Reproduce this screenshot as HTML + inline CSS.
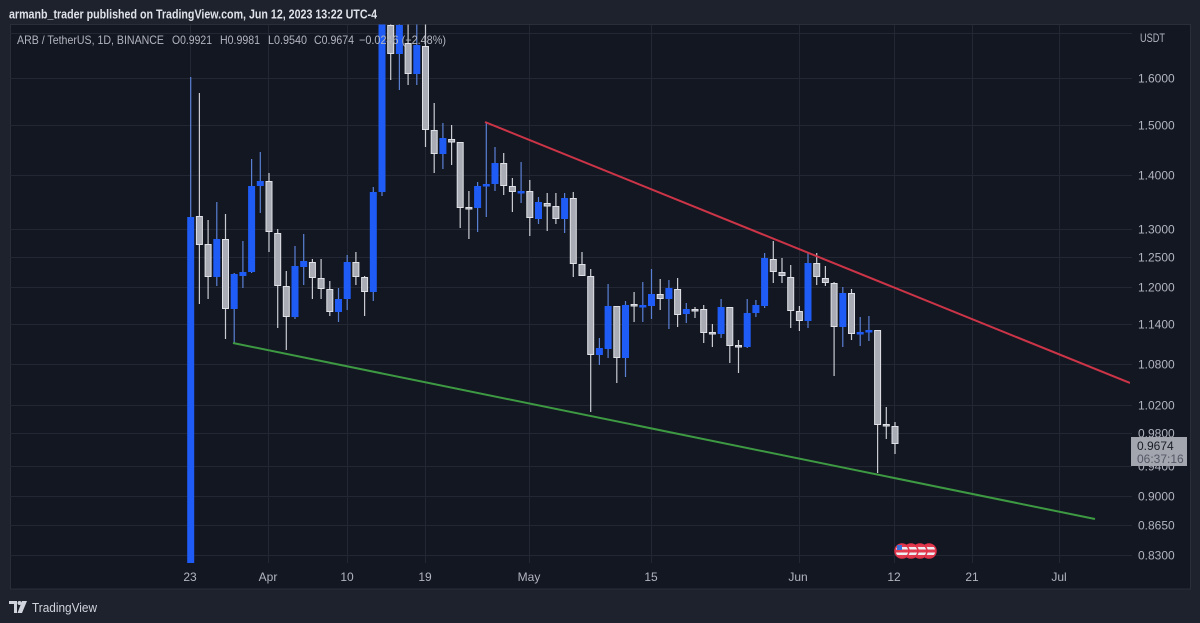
<!DOCTYPE html>
<html><head><meta charset="utf-8"><style>
html,body{margin:0;padding:0;background:#1e222d;}
svg{display:block;}
text{font-family:"Liberation Sans",sans-serif;}
</style></head><body>
<svg width="1200" height="623" viewBox="0 0 1200 623" xmlns="http://www.w3.org/2000/svg">
<defs>
<clipPath id="plot"><rect x="10" y="24.5" width="1120" height="538.5"/></clipPath>
<linearGradient id="stripes" x1="0" y1="0" x2="0" y2="1">
<stop offset="0" stop-color="#e23a4e"/><stop offset="0.2" stop-color="#e23a4e"/>
<stop offset="0.2" stop-color="#eceef2"/><stop offset="0.4" stop-color="#eceef2"/>
<stop offset="0.4" stop-color="#e23a4e"/><stop offset="0.6" stop-color="#e23a4e"/>
<stop offset="0.6" stop-color="#eceef2"/><stop offset="0.8" stop-color="#eceef2"/>
<stop offset="0.8" stop-color="#e23a4e"/><stop offset="1" stop-color="#e23a4e"/>
</linearGradient>
</defs>
<rect x="0" y="0" width="1200" height="623" fill="#1e222d"/>
<rect x="10.5" y="24.5" width="1180" height="564.5" fill="#131722" stroke="#2a2e39" stroke-width="1"/>

<!-- grid -->
<g stroke="#232734" stroke-width="1">
<path d="M10 33.5H1132M10 78.5H1132M10 125.5H1132M10 175.5H1132M10 229.5H1132M10 257.5H1132M10 287.5H1132M10 324.5H1132M10 364.5H1132M10 405.5H1132M10 433.5H1132M10 466.5H1132M10 496.5H1132M10 525.5H1132M10 555.5H1132"/>
<path d="M190.5 25V563M268.5 25V563M347.5 25V563M425.5 25V563M529.5 25V563M651.5 25V563M799.5 25V563M894.5 25V563M972.5 25V563M1059.5 25V563"/>
</g>

<g clip-path="url(#plot)">
<!-- blue wicks -->
<path fill="none" stroke="#5a80d4" stroke-width="1.2" d="
M190.7 77V563M216.8 202V286M234.2 273V343M242.9 241V288M251.6 159V273M260.3 152V213
M295 246V319M303.7 234V285M338.5 288V322M347.2 255V310M373.3 187V301M382 10V196
M399.4 20V90M416.8 20V85M442.9 123V169M477.6 182V232M486.3 122V217M495 147V191
M521.1 162V203M538.5 197V224M564.6 193V233M599.4 338V365M608.1 284V358M625.5 301V377
M642.8 282V322M651.5 269V319M668.9 280V329M686.3 303V323M721.1 299V338M747.2 299V348
M755.9 300V317M764.6 253V308M808 252V328M842.8 287V347M860.2 317V346M868.9 316V341"/>
<!-- grey wicks -->
<path fill="none" stroke="#c9cbd1" stroke-width="1.2" d="
M199.4 93V304M208.1 220V299M225.5 214V339M269 173V252M277.7 229V328M286.3 271V350
M312.4 259V299M321.1 259V299M329.8 281V316M355.9 252V285M364.6 276V316M390.7 20V80
M408.1 20V85M425.5 20V147M434.2 103V173M451.6 125V165M460.2 142V228M468.9 191V239
M503.7 153V195M512.4 178V212M529.8 180V236M547.2 193V231M555.9 193V224M573.3 192V277
M582 252V276M590.7 269V412M616.8 306V383M634.1 292V322M660.2 279V310M677.6 278V327
M695 307V318M703.7 305V343M712.4 324V347M729.8 307V363M738.5 340V373M773.3 241V283
M782 258V283M790.7 265V328M799.4 306V331M816.7 253V285M825.4 266V286M834.1 282V376
M851.5 289V340M877.6 330V473M886.3 407V439M895 422V454"/>
<!-- blue bodies -->
<g fill="#1f5cf6">
<rect x="187.2" y="217" width="7" height="346"/>
<rect x="213.3" y="239" width="7" height="38"/>
<rect x="230.7" y="274" width="7" height="35"/>
<rect x="239.4" y="272" width="7" height="4"/>
<rect x="248.1" y="186" width="7" height="86"/>
<rect x="256.8" y="181" width="7" height="5"/>
<rect x="291.5" y="266" width="7" height="51"/>
<rect x="300.2" y="261" width="7" height="6"/>
<rect x="335" y="299" width="7" height="13"/>
<rect x="343.7" y="262" width="7" height="37"/>
<rect x="369.8" y="192" width="7" height="100"/>
<rect x="378.5" y="10" width="7" height="182"/>
<rect x="395.9" y="25" width="7" height="29"/>
<rect x="413.3" y="45" width="7" height="29"/>
<rect x="439.4" y="138" width="7" height="16"/>
<rect x="474.1" y="186" width="7" height="22"/>
<rect x="482.8" y="184" width="7" height="2.5"/>
<rect x="491.5" y="163" width="7" height="21"/>
<rect x="517.6" y="191" width="7" height="2.5"/>
<rect x="535" y="202" width="7" height="17"/>
<rect x="561.1" y="198" width="7" height="21"/>
<rect x="595.9" y="348" width="7" height="7"/>
<rect x="604.6" y="306" width="7" height="43"/>
<rect x="622" y="305" width="7" height="53"/>
<rect x="639.3" y="305" width="7" height="2.5"/>
<rect x="648" y="294" width="7" height="12"/>
<rect x="665.4" y="288" width="7" height="11"/>
<rect x="682.8" y="309" width="7" height="5"/>
<rect x="717.6" y="307" width="7" height="27"/>
<rect x="743.7" y="313" width="7" height="34"/>
<rect x="752.4" y="305" width="7" height="8"/>
<rect x="761.1" y="258" width="7" height="48"/>
<rect x="804.5" y="263" width="7" height="58"/>
<rect x="839.3" y="293" width="7" height="34"/>
<rect x="856.7" y="332" width="7" height="2.5"/>
<rect x="865.4" y="330" width="7" height="2.5"/>
</g>
<!-- grey bodies -->
<g fill="#a9acb4" stroke="#dfe1e6" stroke-width="1">
<rect x="196.4" y="216.5" width="6" height="28"/>
<rect x="205.1" y="244.5" width="6" height="32"/>
<rect x="222.5" y="239.5" width="6" height="69"/>
<rect x="266" y="181.5" width="6" height="50"/>
<rect x="274.7" y="233.5" width="6" height="52"/>
<rect x="283.3" y="286.5" width="6" height="30"/>
<rect x="309.4" y="262.5" width="6" height="15"/>
<rect x="318.1" y="278.5" width="6" height="10"/>
<rect x="326.8" y="289.5" width="6" height="22"/>
<rect x="352.9" y="262.5" width="6" height="14"/>
<rect x="361.6" y="277.5" width="6" height="14"/>
<rect x="387.7" y="25.5" width="6" height="28"/>
<rect x="405.1" y="43.5" width="6" height="30"/>
<rect x="422.5" y="46.5" width="6" height="83"/>
<rect x="431.2" y="130.5" width="6" height="23"/>
<rect x="448.6" y="139.5" width="6" height="2.5"/>
<rect x="457.2" y="142.5" width="6" height="65"/>
<rect x="465.9" y="207.5" width="6" height="1.5"/>
<rect x="500.7" y="163.5" width="6" height="22"/>
<rect x="509.4" y="186.5" width="6" height="5"/>
<rect x="526.8" y="191.5" width="6" height="26"/>
<rect x="544.2" y="203.5" width="6" height="2.5"/>
<rect x="552.9" y="206.5" width="6" height="12"/>
<rect x="570.3" y="198.5" width="6" height="65"/>
<rect x="579" y="264.5" width="6" height="11"/>
<rect x="587.7" y="276.5" width="6" height="78"/>
<rect x="613.8" y="306.5" width="6" height="51"/>
<rect x="631.1" y="304.5" width="6" height="1.5"/>
<rect x="657.2" y="294.5" width="6" height="4"/>
<rect x="674.6" y="289.5" width="6" height="25"/>
<rect x="692" y="309.5" width="6" height="1.5"/>
<rect x="700.7" y="309.5" width="6" height="23"/>
<rect x="709.4" y="332.5" width="6" height="1.5"/>
<rect x="726.8" y="307.5" width="6" height="38"/>
<rect x="735.5" y="345.5" width="6" height="1.5"/>
<rect x="770.3" y="259.5" width="6" height="12"/>
<rect x="779" y="272.5" width="6" height="3"/>
<rect x="787.7" y="277.5" width="6" height="33"/>
<rect x="796.4" y="311.5" width="6" height="9"/>
<rect x="813.7" y="263.5" width="6" height="13"/>
<rect x="822.4" y="278.5" width="6" height="4"/>
<rect x="831.1" y="283.5" width="6" height="43"/>
<rect x="848.5" y="293.5" width="6" height="40"/>
<rect x="874.6" y="330.5" width="6" height="94"/>
<rect x="883.3" y="424.5" width="6" height="1.5"/>
<rect x="892" y="426.5" width="6" height="17"/>
</g>
<!-- trend lines -->
<line x1="485" y1="122" x2="1130" y2="383" stroke="#cc3447" stroke-width="2"/>
<line x1="233" y1="343" x2="1095" y2="519" stroke="#3d9a42" stroke-width="2"/>
</g>

<!-- flags -->
<g stroke="#e0344b" stroke-width="1.5">
<circle cx="929" cy="551" r="7" fill="url(#stripes)"/>
<circle cx="920" cy="551" r="7" fill="url(#stripes)"/>
<circle cx="911" cy="551" r="7" fill="url(#stripes)"/>
<circle cx="902" cy="551" r="7" fill="url(#stripes)"/>
</g>
<rect x="897" y="545" width="5" height="5" fill="#3b6fd8"/>

<!-- header text -->
<text x="9" y="18.5" font-size="12.5" fill="#dfe2e8" font-weight="bold" textLength="368" lengthAdjust="spacingAndGlyphs">armanb_trader published on TradingView.com, Jun 12, 2023 13:22 UTC-4</text>
<g font-size="12" fill="#b2b5be">
<text x="17" y="44" textLength="147" lengthAdjust="spacingAndGlyphs">ARB / TetherUS, 1D, BINANCE</text>
<text x="172" y="44" textLength="40" lengthAdjust="spacingAndGlyphs">O0.9921</text>
<text x="220" y="44" textLength="40" lengthAdjust="spacingAndGlyphs">H0.9981</text>
<text x="268" y="44" textLength="39" lengthAdjust="spacingAndGlyphs">L0.9540</text>
<text x="314" y="44" textLength="40" lengthAdjust="spacingAndGlyphs">C0.9674</text>
<text x="359" y="44" textLength="87" lengthAdjust="spacingAndGlyphs">−0.0246 (−2.48%)</text>
</g>

<!-- price axis -->
<g font-size="12" fill="#b2b5be">
<text x="1140" y="42" textLength="25" lengthAdjust="spacingAndGlyphs">USDT</text>
<text x="1138" y="82.5">1.6000</text>
<text x="1138" y="129.5">1.5000</text>
<text x="1138" y="179.5">1.4000</text>
<text x="1138" y="233.5">1.3000</text>
<text x="1138" y="261.5">1.2500</text>
<text x="1138" y="291.5">1.2000</text>
<text x="1138" y="328.5">1.1400</text>
<text x="1138" y="368.5">1.0800</text>
<text x="1138" y="409.5">1.0200</text>
<text x="1138" y="437.5">0.9800</text>
<text x="1138" y="470.5">0.9400</text>
<text x="1138" y="500.5">0.9000</text>
<text x="1138" y="529.5">0.8650</text>
<text x="1138" y="559.5">0.8300</text>
</g>
<rect x="1131" y="437" width="56" height="29" fill="#a3a6ae"/>
<text x="1137" y="450" font-size="12" fill="#1a1d26">0.9674</text>
<text x="1137" y="463" font-size="12" fill="#555966">06:37:16</text>

<!-- time axis -->
<g font-size="12" fill="#b2b5be" text-anchor="middle">
<text x="190" y="581">23</text>
<text x="268" y="581">Apr</text>
<text x="347" y="581">10</text>
<text x="425" y="581">19</text>
<text x="529" y="581">May</text>
<text x="651" y="581">15</text>
<text x="798" y="581">Jun</text>
<text x="894" y="581">12</text>
<text x="972" y="581">21</text>
<text x="1059" y="581">Jul</text>
</g>

<!-- TradingView logo -->
<g fill="#d1d4dc">
<path d="M9 601H17V613H14V604H9Z"/>
<circle cx="19.5" cy="603" r="2"/>
<path d="M22 601H27L22 613H17.5Z"/>
</g>
<text x="32" y="612" font-size="13" fill="#d1d4dc" textLength="65" lengthAdjust="spacingAndGlyphs">TradingView</text>
</svg>
</body></html>
